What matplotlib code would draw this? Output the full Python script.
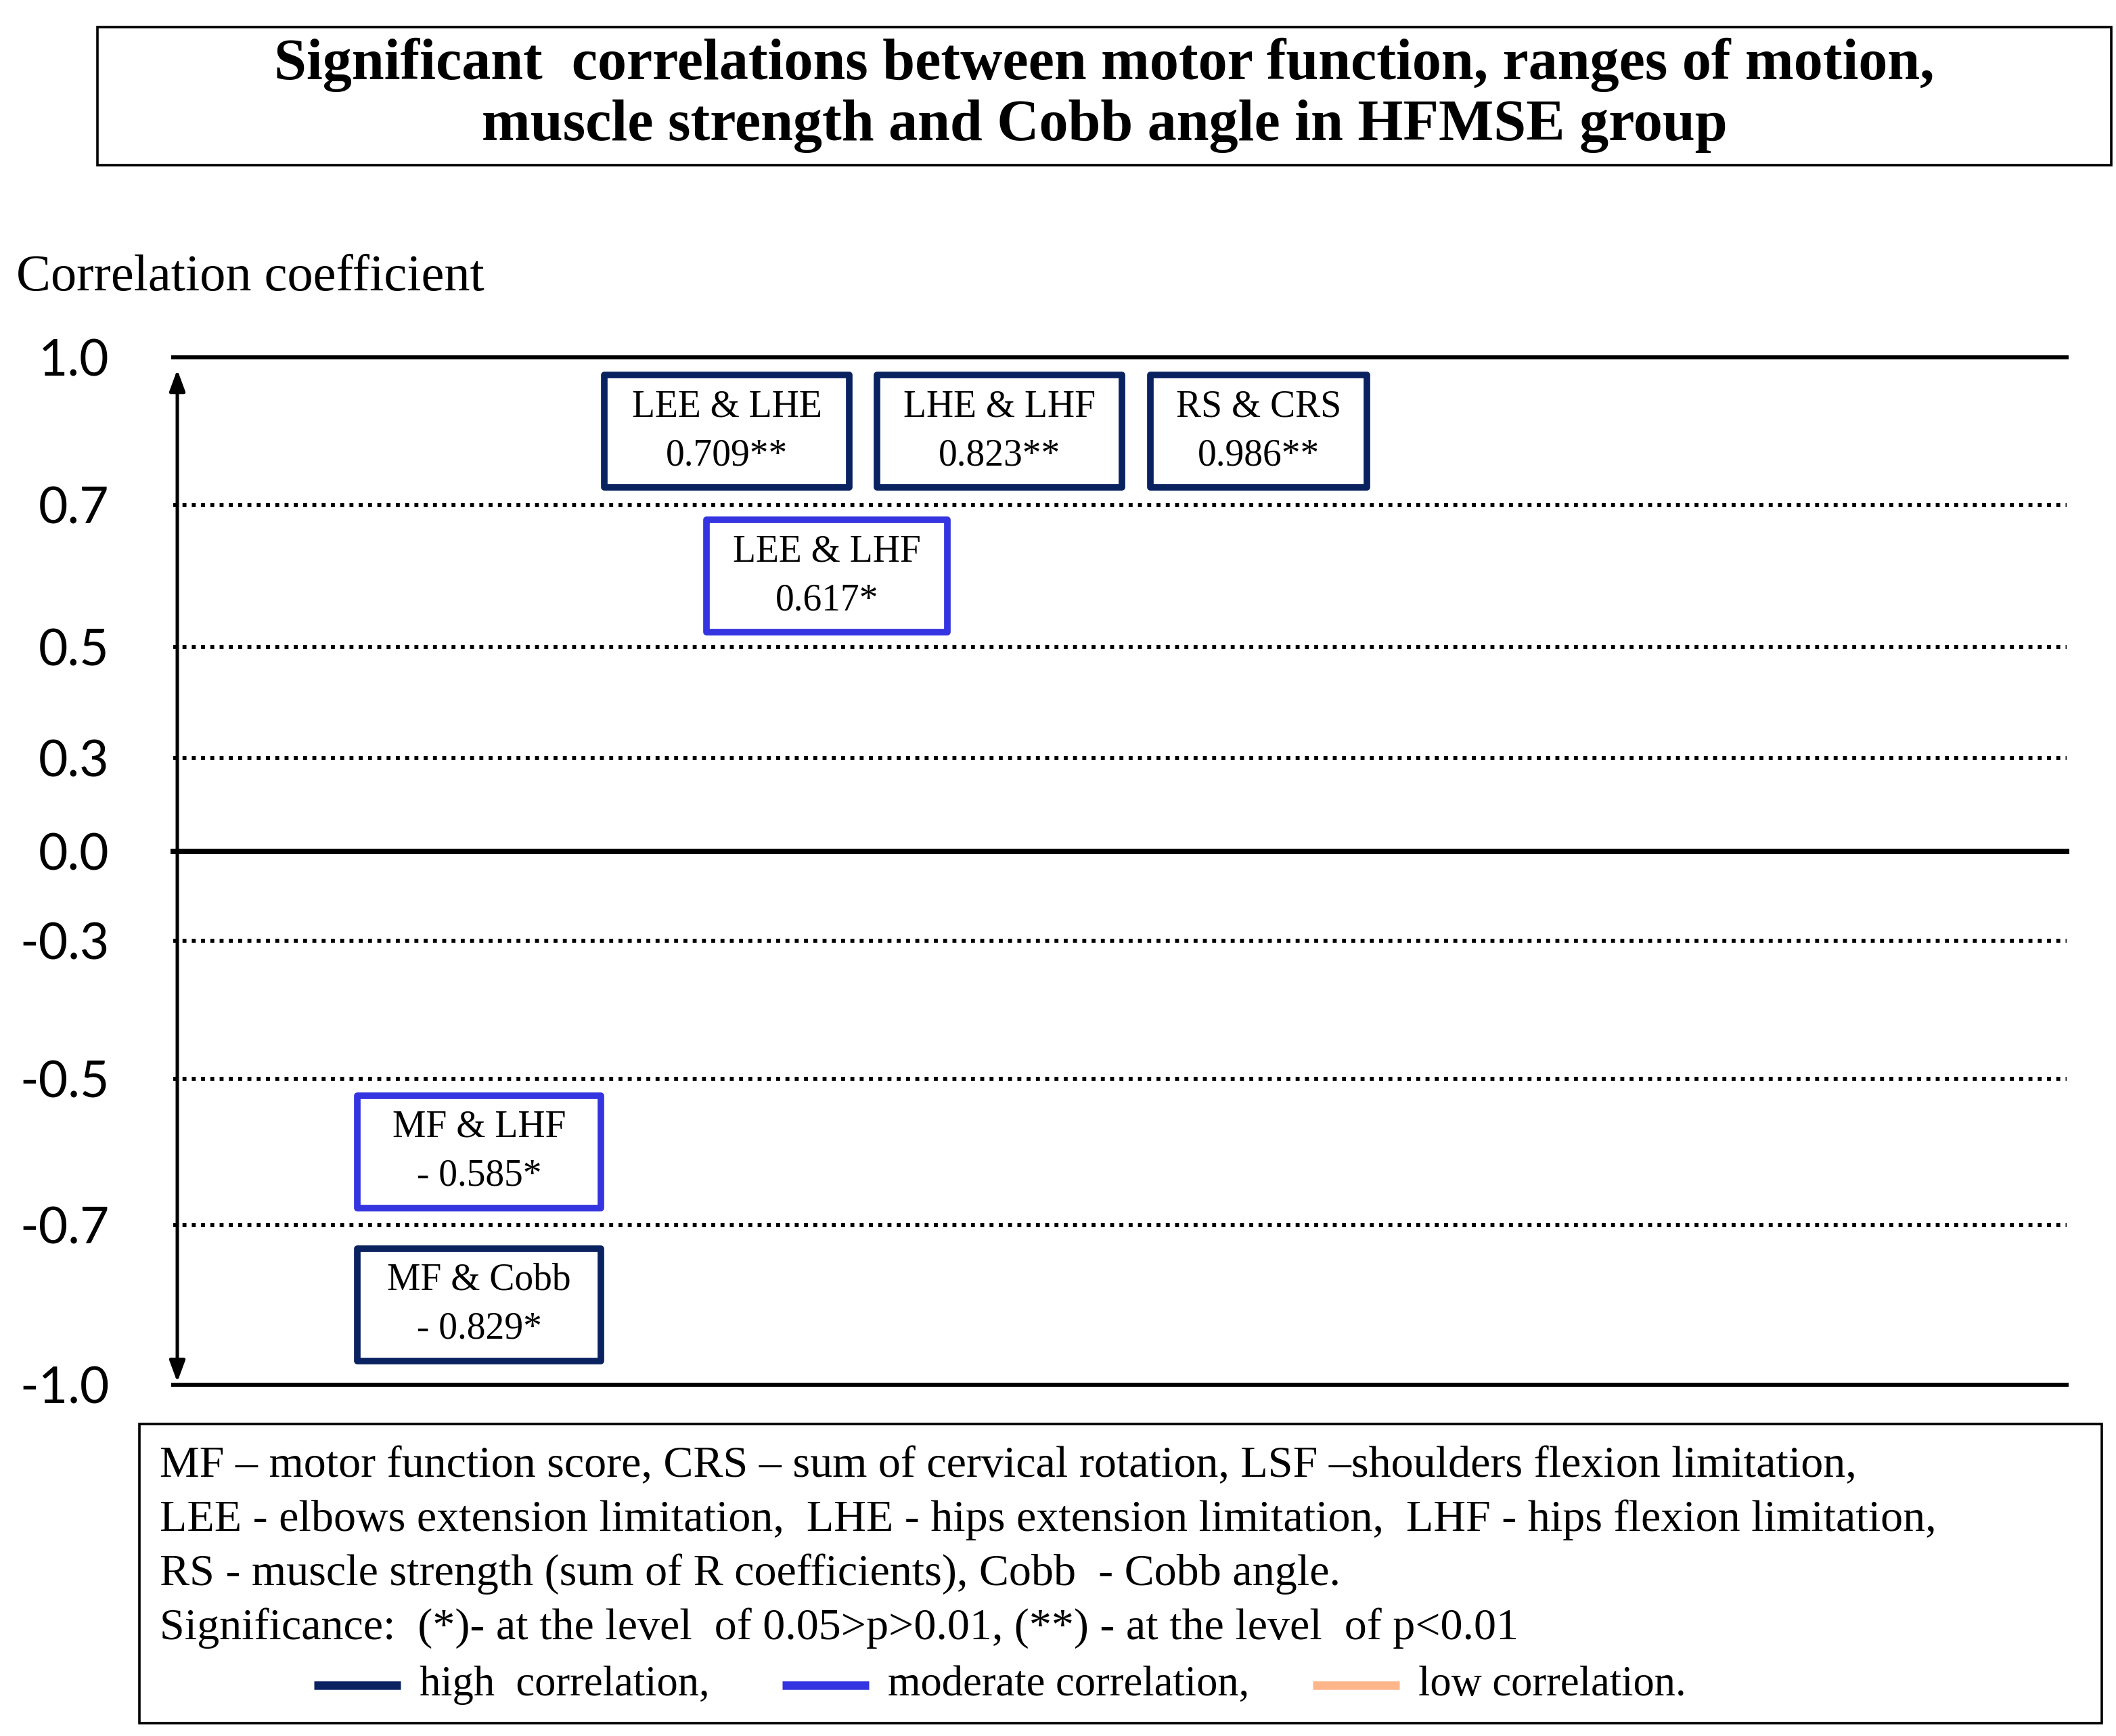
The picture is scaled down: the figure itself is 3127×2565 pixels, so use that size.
import numpy as np
import matplotlib.pyplot as plt
from matplotlib.patches import Rectangle

# data
levels = [-1.0, -0.7, -0.5, -0.3, 0.0, 0.3, 0.5, 0.7, 1.0]
level_labels = ["-1.0", "-0.7", "-0.5", "-0.3", "0.0", "0.3", "0.5", "0.7", "1.0"]
pairs = ["LEE & LHE", "LHE & LHF", "RS & CRS", "LEE & LHF", "MF & LHF", "MF & Cobb"]
r_values = [0.709, 0.823, 0.986, 0.617, -0.585, -0.829]
stars = ["**", "**", "**", "*", "*", "*"]

# layout (pixels of the 3127x2565 picture)
W, H = 3127, 2565
level_height = [519, 755, 971, 1175, 1307, 1445, 1609, 1819, 2037]  # from bottom
box_x = [1074, 1477, 1860, 1222, 708, 708]
box_w = [362, 362, 320, 356, 360, 360]
box_h = 166

high_col = "#0a2260"
mod_col = "#3434e0"
low_col = "#fdb68a"
serif = ["Liberation Serif", "DejaVu Serif"]


def fwd(v):
    return np.interp(v, levels, level_height)


def inv(p):
    return np.interp(p, level_height, levels)


fig = plt.figure(figsize=(W / 100, H / 100), dpi=100)

ax = fig.add_axes([256 / W, 519 / H, (3054 - 256) / W, (2037 - 519) / H])
ax.set_yscale("function", functions=(fwd, inv))
ax.set_ylim(-1.0, 1.0)
ax.set_xlim(256, 3054)
ax.set_facecolor("none")
for s in ax.spines.values():
    s.set_visible(False)
ax.set_xticks([])
ax.set_yticks(levels)
ax.set_yticklabels(level_labels, fontsize=54, family=["Lato", "DejaVu Sans"])
ax.tick_params(axis="y", length=0, pad=68)

for lv in levels:
    if abs(lv) == 1.0:
        ax.axhline(lv, color="black", lw=4.3, clip_on=False)
    elif lv == 0.0:
        ax.axhline(lv, color="black", lw=5.8, clip_on=False)
    else:
        ax.axhline(lv, color="black", lw=4.2, ls=(0, (1.0, 1.35)), clip_on=False)

# double arrow along the left side
ax.annotate("", xy=(262, 0.975), xytext=(262, -0.995), xycoords="data",
            arrowprops=dict(arrowstyle="<|-|>,head_length=1.9,head_width=0.7",
                            color="black", lw=3.6, shrinkA=0, shrinkB=0),
            annotation_clip=False)

# overlay in picture pixels for boxes and text
over = fig.add_axes([0, 0, 1, 1])
over.set_xlim(0, W)
over.set_ylim(H, 0)
over.axis("off")

# correlation boxes, placed in the band of their value
for name, r, st, bx, bw in zip(pairs, r_values, stars, box_x, box_w):
    i = np.searchsorted(levels, r)
    lo, hi = levels[i - 1], levels[i]
    y_lo = ax.transData.transform((bx, lo))[1]
    y_hi = ax.transData.transform((bx, hi))[1]
    cy = H - (y_lo + y_hi) / 2
    col = high_col if abs(r) >= 0.7 else mod_col
    over.add_patch(Rectangle((bx - bw / 2, cy - box_h / 2), bw, box_h,
                             fc="white", ec=col, lw=7.0, joinstyle="round"))
    val = ("- " if r < 0 else "") + f"{abs(r):.3f}" + st
    over.text(bx, cy - 36, name, ha="center", va="center", fontsize=40, family=serif)
    over.text(bx, cy + 36, val, ha="center", va="center", fontsize=40, family=serif)

# title box
over.add_patch(Rectangle((144, 40), 2976, 204, fill=False, ec="black", lw=2.6))
over.text(1632, 96, "Significant  correlations between motor function, ranges of motion,",
          ha="center", va="center", fontsize=62, fontweight="bold", family=serif)
over.text(1632, 186, "muscle strength and Cobb angle in HFMSE group",
          ha="center", va="center", fontsize=62, fontweight="bold", family=serif)

over.text(24, 410, "Correlation coefficient", ha="left", va="center",
          fontsize=55, family=serif)

# legend box
over.add_patch(Rectangle((206, 2104), 2900, 442, fill=False, ec="black", lw=2.6))
legend_lines = [
    "MF \u2013 motor function score, CRS \u2013 sum of cervical rotation, LSF \u2013shoulders flexion limitation,",
    "LEE - elbows extension limitation,  LHE - hips extension limitation,  LHF - hips flexion limitation,",
    "RS - muscle strength (sum of R coefficients), Cobb  - Cobb angle.",
    "Significance:  (*)- at the level  of 0.05>p>0.01, (**) - at the level  of p<0.01",
]
for k, line in enumerate(legend_lines):
    over.text(236, 2166 + k * 80, line, ha="left", va="center", fontsize=47.5, family=serif)

key_names = ["high  correlation,", "moderate correlation,", "low correlation."]
key_cols = [high_col, mod_col, low_col]
key_x = [464, 1156, 1940]
for name, col, kx in zip(key_names, key_cols, key_x):
    over.plot([kx, kx + 128], [2490, 2490], color=col, lw=9, solid_capstyle="butt")
    over.text(kx + 156, 2490, name, ha="left", va="center", fontsize=45, family=serif)

fig.savefig("out.png", dpi=100)
